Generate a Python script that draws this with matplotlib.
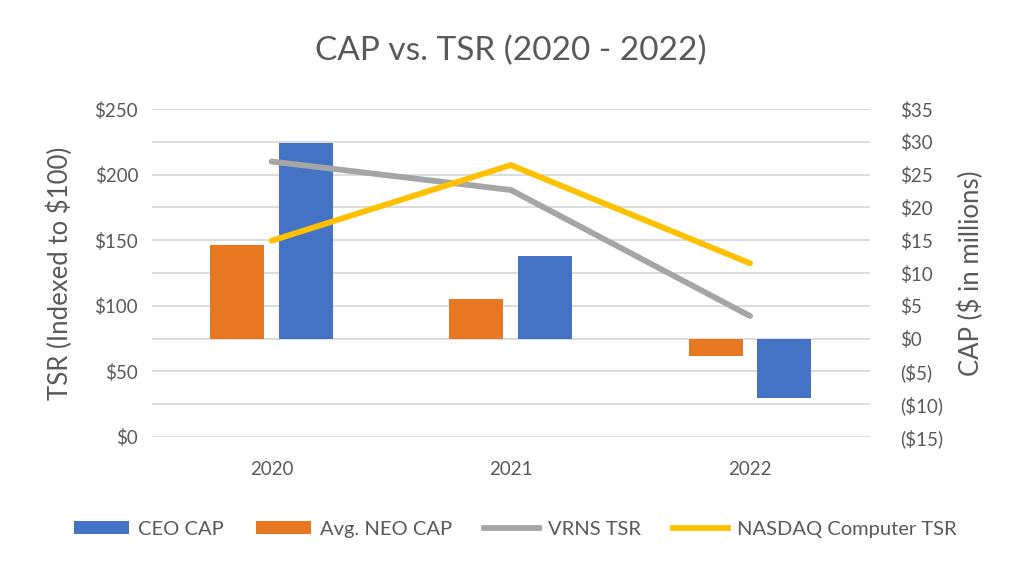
import matplotlib
matplotlib.use("Agg")
import matplotlib.pyplot as plt
import numpy as np
from matplotlib.patches import Patch
from matplotlib.lines import Line2D
from matplotlib.ticker import FuncFormatter

years = ["2020", "2021", "2022"]
ceo_cap = [29.9, 12.6, -9.0]
neo_cap = [14.3, 6.0, -2.7]
vrns_tsr = [210.0, 188.3, 92.2]
nasdaq_tsr = [149.6, 207.3, 132.4]

plt.rcParams['font.family'] = ['Lato', 'DejaVu Sans']
TXT = "#595959"
BLUE = "#4472C4"
ORANGE = "#E87722"
GRAY = "#A5A5A5"
YELLOW = "#FFC000"

fig = plt.figure(figsize=(10.22, 5.74), dpi=100)
ax = fig.add_axes([0.1487, 0.2387, 0.7023, 0.5713])
ax2 = ax.twinx()

x = np.arange(len(years))
w = 0.226
# bars on CAP (right) axis
ax2.bar(x - 0.144, neo_cap, width=w, color=ORANGE, zorder=3)
ax2.bar(x + 0.143, ceo_cap, width=w, color=BLUE, zorder=3)
ax2.set_ylim(-15, 35)
ax2.set_yticks(np.arange(-15, 36, 5))
ax2.yaxis.set_major_formatter(FuncFormatter(lambda v, p: f"${v:.0f}" if v >= 0 else f"(${-v:.0f})"))
for yv in np.arange(-15, 36, 5):
    ax2.axhline(yv, color="#D9D9D9", lw=1.3, zorder=0)

# lines on TSR (left) axis
ax.plot(x, vrns_tsr, color=GRAY, lw=4.2, solid_capstyle="round", solid_joinstyle="round", zorder=4)
ax.plot(x, nasdaq_tsr, color=YELLOW, lw=4.2, solid_capstyle="round", solid_joinstyle="round", zorder=5)
ax.set_ylim(0, 250)
ax.set_yticks(np.arange(0, 251, 50))
ax.yaxis.set_major_formatter(FuncFormatter(lambda v, p: f"${v:.0f}"))
ax.set_xlim(-0.5, 2.5)
ax.set_xticks(x)
ax.set_xticklabels(years)

ax.set_zorder(ax2.get_zorder() + 1)
ax.patch.set_visible(False)

for a in (ax, ax2):
    for s in a.spines.values():
        s.set_visible(False)
    a.tick_params(length=0, labelsize=13.5, colors=TXT)
ax.tick_params(axis="y", pad=10)
ax2.tick_params(axis="y", pad=22)
ax.tick_params(axis="x", pad=17)

ax.set_ylabel("TSR (Indexed to $100)", fontsize=18.5, color=TXT, labelpad=15)
ax2.set_ylabel("CAP ($ in millions)", fontsize=18.5, color=TXT, labelpad=10)

fig.suptitle("CAP vs. TSR (2020 - 2022)", fontsize=24, color=TXT, y=0.937)

handles = [
    Patch(facecolor=BLUE, edgecolor="none", label="CEO CAP"),
    Patch(facecolor=ORANGE, edgecolor="none", label="Avg. NEO CAP"),
    Line2D([0], [0], color=GRAY, lw=4.2, label="VRNS TSR"),
    Line2D([0], [0], color=YELLOW, lw=4.2, label="NASDAQ Computer TSR"),
]
leg = fig.legend(handles=handles, loc="center", bbox_to_anchor=(0.5044, 0.078), ncol=4,
                 frameon=False, fontsize=14.5, handlelength=2.7, handleheight=0.6,
                 columnspacing=1.62, handletextpad=0.45)
for t in leg.get_texts():
    t.set_color(TXT)

fig.savefig("out.png", dpi=100)
